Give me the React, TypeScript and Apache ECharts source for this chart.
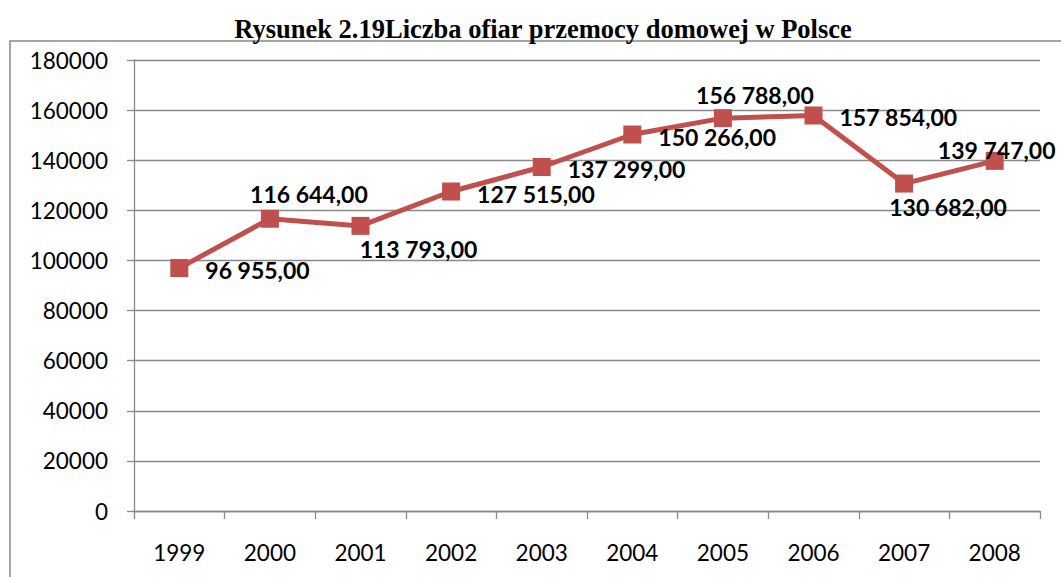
import React, { useEffect, useRef } from "react";
import * as echarts from "echarts";

const titleText = "Rysunek 2.19Liczba ofiar przemocy domowej w Polsce";
const years = ["1999", "2000", "2001", "2002", "2003", "2004", "2005", "2006", "2007", "2008"];
const victims = [96955, 116644, 113793, 127515, 137299, 150266, 156788, 157854, 130682, 139747];
// label placement per point: "right" or [dx, dy] offset from marker centre
const labelPlacement: (string | number[])[] = [
  "right", [39, -25], [58, 23], "right", "right", "right", [32, -23], "right", [44, 23], [2, -11],
];

const fmt = (v: number) => {
  const th = Math.floor(v / 1000);
  const rest = String(v % 1000).padStart(3, "0");
  return `${th} ${rest},00`;
};

export default function App() {
  const ref = useRef<HTMLDivElement>(null);
  useEffect(() => {
    if (!ref.current) return;
    const chart = echarts.init(ref.current, null, { renderer: "svg" });
    const gray = "#898989";
    const data = victims.map((v, i) => {
      const p = labelPlacement[i];
      const label =
        p === "right"
          ? { position: "right", distance: 17, offset: [0, 2] }
          : { position: "inside", offset: p as number[], align: "center", verticalAlign: "middle" };
      return { value: v, label };
    });
    chart.setOption({
      animation: false,
      backgroundColor: "#ffffff",
      title: {
        text: titleText,
        left: 538,
        textAlign: "center",
        top: 10,
        textStyle: {
          fontFamily: "Liberation Serif",
          fontWeight: "bold",
          fontSize: 26.5,
          color: "#000",
        },
      },
      graphic: [
        {
          type: "rect",
          shape: { x: 10, y: 41, width: 1100, height: 600 },
          style: { fill: "none", stroke: "#878787", lineWidth: 1.5 },
          silent: true,
        },
      ],
      grid: { left: 134, top: 60, right: 21, bottom: 66 },
      xAxis: {
        type: "category",
        data: years,
        boundaryGap: true,
        axisLine: { lineStyle: { color: gray, width: 1.3 } },
        axisTick: { show: true, length: 8, lineStyle: { color: gray, width: 1.3 } },
        axisLabel: {
          margin: 30,
          fontFamily: "Lato",
          fontSize: 22.5,
          color: "#000",
        },
      },
      yAxis: {
        type: "value",
        min: 0,
        max: 180000,
        interval: 20000,
        axisLine: { show: true, lineStyle: { color: gray, width: 1.3 } },
        axisTick: { show: true, length: 7, lineStyle: { color: gray, width: 1.3 } },
        splitLine: { show: true, lineStyle: { color: gray, width: 1.3 } },
        axisLabel: {
          margin: 26,
          fontFamily: "Lato",
          fontSize: 22.5,
          color: "#000",
          formatter: (v: number) => String(v),
        },
      },
      series: [
        {
          type: "line",
          data,
          symbol: "rect",
          symbolSize: 18,
          itemStyle: { color: "#C0504D" },
          lineStyle: { color: "#C0504D", width: 5 },
          label: {
            show: true,
            formatter: (p: any) => fmt(p.value),
            fontFamily: "Lato",
            fontWeight: "bold",
            fontSize: 23,
            color: "#000",
          },
        },
      ],
    });
    return () => chart.dispose();
  }, []);
  return (
    <div
      ref={ref}
      style={{ position: "absolute", left: 0, top: 0, width: 1061, height: 577 }}
    />
  );
}
